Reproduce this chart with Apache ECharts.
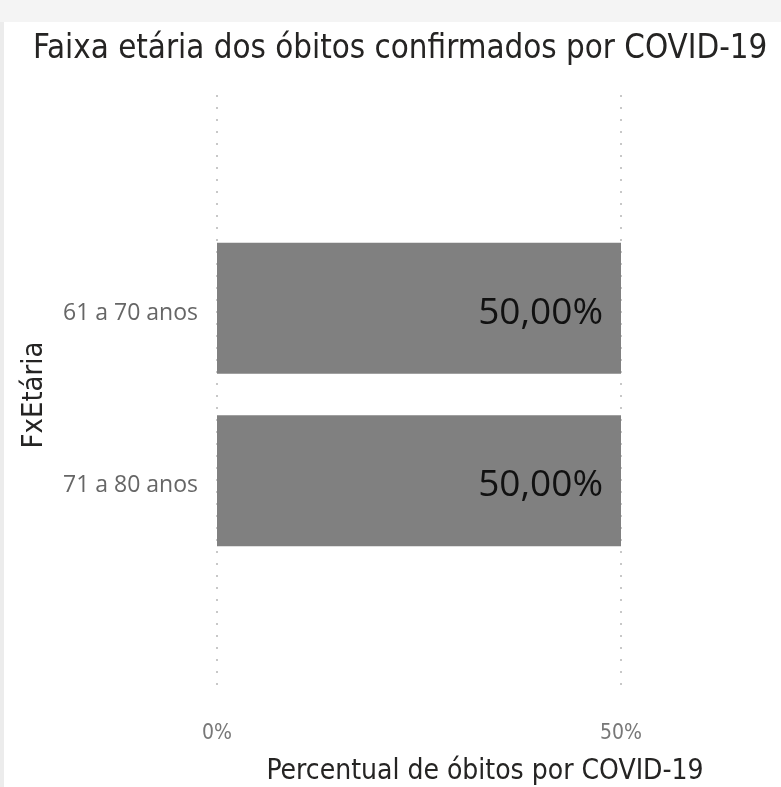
<!DOCTYPE html>
<html>
<head>
<meta charset="utf-8">
<script src="https://cdn.jsdelivr.net/npm/echarts@6/dist/echarts.min.js"></script>
<style>
html,body{margin:0;padding:0;background:#fff;}
#chart{width:781px;height:787px;}
</style>
</head>
<body>
<div id="chart"></div>
<script>
const titleText = 'Faixa etária dos óbitos confirmados por COVID-19';
const yAxisName = 'FxEtária';
const xAxisName = 'Percentual de óbitos por COVID-19';
const categories = ['61 a 70 anos', '71 a 80 anos'];
const values = [0.5, 0.5];
const xTicks = [0, 0.5];

const din = '"DejaVu Sans Condensed", "DejaVu Sans", sans-serif';
const seg = '"Open Sans", "Noto Sans", sans-serif';

const chart = echarts.init(document.getElementById('chart'));
chart.setOption({
  animation: false,
  backgroundColor: '#ffffff',
  graphic: [
    { type: 'rect', left: 0, top: 0, shape: { width: 781, height: 22 }, style: { fill: '#f4f4f4' }, z: -10 },
    { type: 'rect', left: 0, top: 22, shape: { width: 4, height: 765 }, style: { fill: '#ececec' }, z: -10 },
    {
      type: 'text', x: 485, y: 772,
      style: { text: xAxisName, textAlign: 'center', textVerticalAlign: 'middle',
               font: '28px ' + din, fill: '#252423' }
    }
  ],
  title: {
    text: titleText,
    left: 28, top: 28,
    textStyle: { fontFamily: din, fontSize: 32.8, fontWeight: 'normal', color: '#252423' }
  },
  grid: [
    { left: 217, right: 160, top: 95, bottom: 92, containLabel: false },
    { left: 217, right: 160, top: 222, bottom: 220, containLabel: false }
  ],
  xAxis: [
    {
      gridIndex: 0, type: 'value', min: xTicks[0], max: xTicks[1], interval: 0.5,
      axisLine: { show: false }, axisTick: { show: false },
      splitLine: { show: true, lineStyle: { type: [2, 10], color: '#c8c8c8', width: 2 } },
      axisLabel: {
        margin: 28, fontFamily: din, fontSize: 21, color: '#777777',
        formatter: v => Math.round(v * 100) + '%'
      }
    },
    {
      gridIndex: 1, type: 'value', min: xTicks[0], max: xTicks[1],
      show: false, splitLine: { show: false }
    }
  ],
  yAxis: [
    {
      gridIndex: 0, type: 'category', data: categories, inverse: true,
      axisLine: { show: false }, axisTick: { show: false }, axisLabel: { show: false },
      splitLine: { show: false },
      name: yAxisName, nameLocation: 'middle', nameGap: 168, nameRotate: 90,
      nameTextStyle: { fontFamily: din, fontSize: 29, color: '#252423' }
    },
    {
      gridIndex: 1, type: 'category', data: categories, inverse: true,
      axisLine: { show: false }, axisTick: { show: false },
      axisLabel: {
        margin: 19,
        formatter: v => '{c|' + v + '}',
        rich: { c: { padding: [10, 0, 0, 0], fontFamily: seg, fontSize: 23, color: '#666666' } }
      }
    }
  ],
  series: [{
    type: 'bar', xAxisIndex: 1, yAxisIndex: 1,
    data: values, barCategoryGap: '24%',
    itemStyle: { color: '#808080' },
    label: {
      show: true, position: 'insideRight', distance: 18, offset: [0, 5],
      fontFamily: seg, fontSize: 37, color: '#111111',
      formatter: p => (p.value * 100).toFixed(2).replace('.', ',') + '%'
    }
  }]
});
</script>
</body>
</html>
